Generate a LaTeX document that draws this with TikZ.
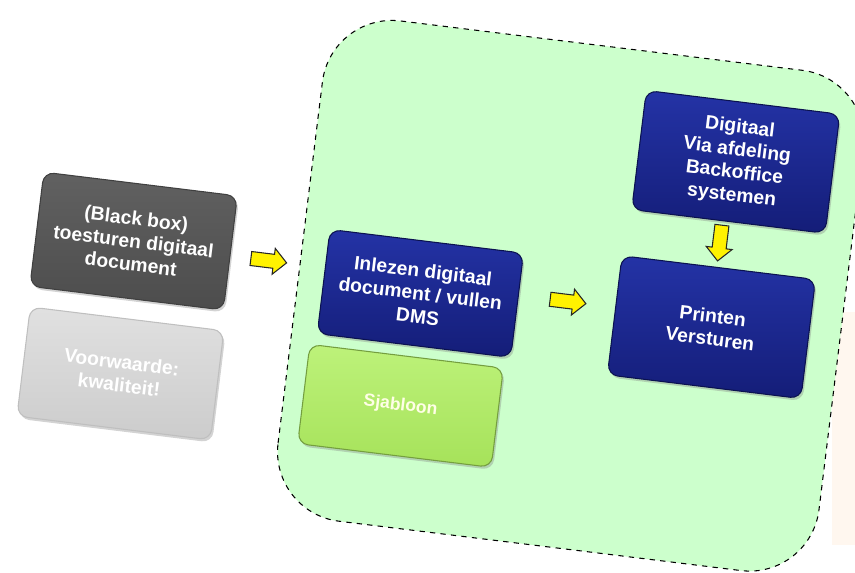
\documentclass[tikz,border=0pt]{standalone}
\usepackage{fontspec}
\setmainfont{Liberation Sans}
\usetikzlibrary{shapes.arrows,shadows}

\definecolor{regiongreen}{HTML}{CCFFCC}
\definecolor{navytop}{HTML}{2433A6}
\definecolor{navybot}{HTML}{141D78}
\definecolor{navyedge}{HTML}{0B1250}
\definecolor{limetop}{HTML}{BDF27A}
\definecolor{limebot}{HTML}{A6E25A}
\definecolor{peach}{HTML}{FFF7EF}

\begin{document}
\begin{tikzpicture}[
    x=0.02cm, y=0.02cm, % one unit is one pixel
    line width=0.6pt, % line style
    region/.style={draw=black, dashed, fill=regiongreen, rounded corners=1.4cm},
    box/.style={rounded corners=6pt, minimum width=3.9cm, align=center,
        text=white, font=\fontsize{11}{13}\selectfont\bfseries,
        drop shadow={opacity=0.35, shadow xshift=1pt, shadow yshift=-1.5pt}},
    bluebox/.style={box, draw=navyedge, top color=navytop, bottom color=navybot},
    blackbox/.style={box, draw=black!75, top color=black!62, bottom color=black!70},
    greybox/.style={box, draw=black!25, top color=black!12, bottom color=black!20},
    limebox/.style={box, draw=limebot!70!black, top color=limetop, bottom color=limebot,
        text=white!90!yellow, font=\fontsize{10}{12}\selectfont\bfseries},
    yarrow/.style={single arrow, draw=black!85, fill=yellow, minimum width=0.5cm,
        minimum height=0.72cm, single arrow head extend=0.12cm, inner sep=0.13cm},
]
\useasboundingbox (0,0) rectangle (855,-572);
\fill[peach] (832,-312) rectangle (855,-545);

\begin{scope}[rotate=-7, transform shape]
    \draw[region] (330,-476) rectangle (875,28);

    % left column
    \node[blackbox, minimum height=2.3cm] (send) at (162,-223)
        {(Black box)\\toesturen digitaal\\document};
    \node[greybox, minimum height=2.2cm] (cond) at (165,-356)
        {Voorwaarde:\\kwaliteit!};

    % middle column
    \node[bluebox, minimum height=2.1cm] (read) at (453,-240)
        {Inlezen digitaal\\document / vullen\\DMS};
    \node[limebox, minimum height=2.0cm] (tmpl) at (447,-354) {Sjabloon};

    % right column
    \node[bluebox, minimum height=2.4cm] (digi) at (750,-71)
        {Digitaal\\Via afdeling\\Backoffice\\systemen};
    \node[bluebox, minimum height=2.4cm] (print) at (746,-238)
        {Printen\\Versturen};

    % block arrows
    \node[yarrow] (a1) at (295,-226) {};
    \node[yarrow] (a2) at (597,-230) {};
    \node[yarrow, shape border rotate=270] (a3) at (744,-150) {};
\end{scope}
\end{tikzpicture}
\end{document}
